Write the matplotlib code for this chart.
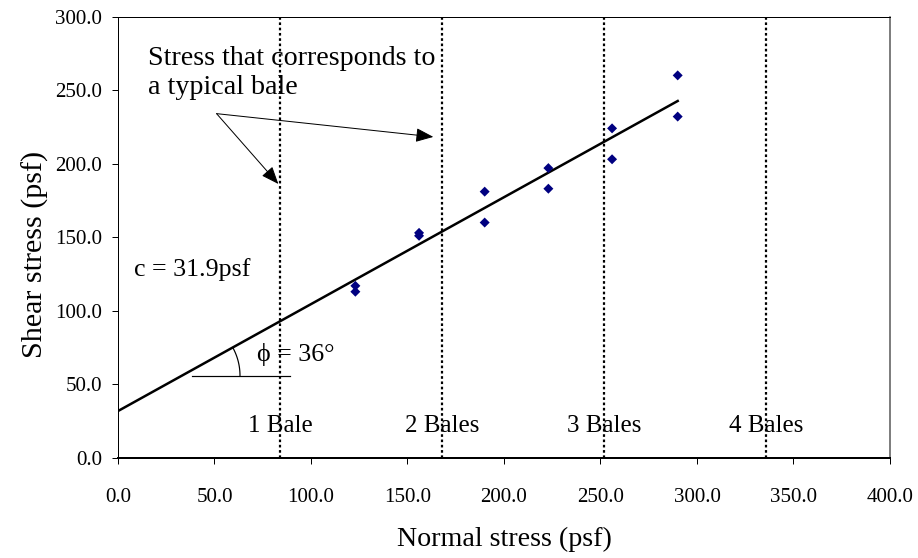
import numpy as np
import matplotlib.pyplot as plt

# measured points (psf)
normal_stress = [123, 123, 156, 156, 190, 190, 223, 223, 256, 256, 290, 290]
shear_stress = [117, 113, 153, 151, 181, 160, 197, 183, 224, 203, 260, 232]

# Mohr-Coulomb fit
cohesion = 31.9
phi_deg = 36
fit_x = [0, 290]

# stress for 1..4 typical bales
bale_stress = [84, 168, 252, 336]
bale_labels = ['1 Bale', '2 Bales', '3 Bales', '4 Bales']

plt.rcParams['font.family'] = ['Liberation Serif', 'DejaVu Serif']

fig = plt.figure(figsize=(918 / 72, 558 / 72), dpi=72)
ax = fig.add_axes([0.1285, 0.1792, 0.8410, 0.7912])

slope = np.tan(np.radians(phi_deg))
fx = np.array(fit_x, dtype=float)
ax.plot(fx, cohesion + slope * fx, color='black', lw=2.5, zorder=3)

ax.scatter(normal_stress, shear_stress, marker='D', s=50, color='#000080',
           edgecolors='none', zorder=4)

for xb, lab in zip(bale_stress, bale_labels):
    ax.axvline(xb, color='black', lw=2.2, linestyle=(0, (1.2, 1.2)), zorder=2)
    ax.text(xb, 22, lab, ha='center', va='center', fontsize=25)

ax.set_xlim(0, 400)
ax.set_ylim(0, 300)
ax.set_xticks(np.arange(0, 401, 50))
ax.set_yticks(np.arange(0, 301, 50))
ax.set_xticklabels([f'{v:.1f}' for v in np.arange(0, 401, 50)])
ax.set_yticklabels([f'{v:.1f}' for v in np.arange(0, 301, 50)])
ax.tick_params(axis='x', direction='out', length=6, width=1, pad=24, labelsize=21)
ax.tick_params(axis='y', direction='out', length=6, width=1, pad=10, labelsize=21)

for s in ['left', 'top']:
    ax.spines[s].set_linewidth(1)
ax.spines['right'].set_linewidth(1.5)
ax.spines['right'].set_color('#555555')
ax.spines['bottom'].set_linewidth(2)

ax.set_xlabel('Normal stress (psf)', fontsize=28, labelpad=20)
ax.set_ylabel('Shear stress (psf)', fontsize=30)
ax.yaxis.label.set_va('center')
ax.yaxis.set_label_coords(-0.1075, 0.46)

# annotations
ax.text(15.5, 280, 'Stress that corresponds to\na typical bale', ha='left', va='top',
        fontsize=28, linespacing=1.2)
for tip in [(163.4, 218.2), (83.1, 186.2)]:
    ax.annotate('', xy=tip, xytext=(51.1, 234),
                arrowprops=dict(arrowstyle='-|>,head_length=1.5,head_width=0.6',
                                color='black', lw=1, shrinkA=0, shrinkB=0))

ax.text(8.3, 128, 'c = 31.9psf', ha='left', va='center', fontsize=26)

# friction angle marker
hy = 56
hx0 = (hy - cohesion) / slope
ax.plot([38.6, 89], [hy, hy], color='black', lw=1.2)
# arc drawn in pixel-equivalent space
xpx = 772 / 400.0
ypx = 441 / 300.0
r = 58
ang = np.radians(np.linspace(0, np.degrees(np.arctan(slope * ypx / xpx)), 30))
ax.plot(hx0 + r * np.cos(ang) / xpx, hy + r * np.sin(ang) / ypx, color='black', lw=1.2)
ax.text(71.8, 70, 'ϕ = 36°', ha='left', va='center', fontsize=26)

fig.savefig('out.png', dpi=72)
